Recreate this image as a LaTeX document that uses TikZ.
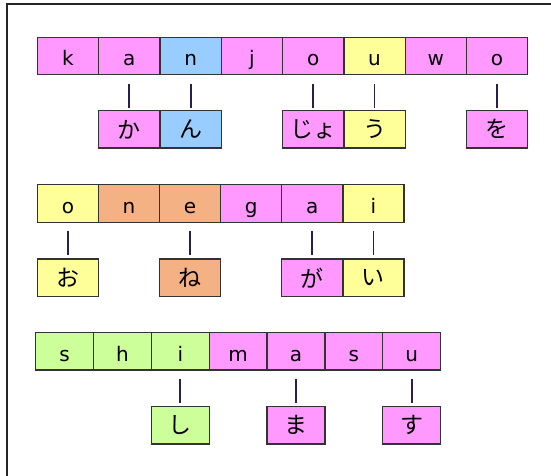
\documentclass[tikz,border=0pt]{standalone}
\usepackage{fontspec}
\setmainfont{DejaVu Sans}
\newfontfamily\jpfont{Noto Sans CJK JP}
\definecolor{cpink}{HTML}{FF99FF}
\definecolor{cblue}{HTML}{99CCFF}
\definecolor{cyellow}{HTML}{FFFF99}
\definecolor{corange}{HTML}{F4B183}
\definecolor{cgreen}{HTML}{CCFF99}
\definecolor{cline}{HTML}{333333}
\definecolor{clink}{HTML}{2A1F4A}
\begin{document}
\begin{tikzpicture}[x=1pt,y=-1pt,
  cell/.style={draw=cline, line width=1.3pt, inner sep=0pt, anchor=north west,
    font=\fontsize{20}{20}\selectfont, text height=20pt, text depth=0pt},
  kcell/.style={draw=cline, line width=1.3pt, inner sep=0pt, anchor=north west,
    font=\jpfont\fontsize{23}{23}\selectfont},
  wa/.style={minimum width=61.3pt, minimum height=37.3pt},
  wb/.style={minimum width=61.1pt, minimum height=37.7pt},
  wc/.style={minimum width=57.86pt, minimum height=37.3pt},
  link/.style={draw=clink, line width=1.8pt}]
\useasboundingbox (0,0) rectangle (551,476);
\draw[line width=2pt, black!85] (6.5,476) -- (6.5,4.5) -- (551,4.5);
% row 1
\foreach \t/\c [count=\i] in {k/cpink,a/cpink,n/cblue,j/cpink,o/cpink,u/cyellow,w/cpink,o/cpink}
  \node[cell, wa, fill=\c] (a\i) at ({36.7+(\i-1)*61.3},36.7) {\t};
\node[kcell, wa, fill=cpink] (ka2) at ({36.7+1*61.3},110) {か};
\node[kcell, wa, fill=cblue] (ka3) at ({36.7+2*61.3},110) {ん};
\node[kcell, wa, fill=cpink] (ka5) at ({36.7+4*61.3},110) {じょ};
\node[kcell, wa, fill=cyellow] (ka6) at ({36.7+5*61.3},110) {う};
\node[kcell, wa, fill=cpink] (ka8) at ({36.7+7*61.3},110) {を};
\foreach \i in {2,3,5,6,8}
  \draw[link, shorten <=8.7pt, shorten >=1.7pt] (a\i) -- (ka\i);
% row 2
\foreach \t/\c [count=\i] in {o/cyellow,n/corange,e/corange,g/cpink,a/cpink,i/cyellow}
  \node[cell, wb, fill=\c] (b\i) at ({36.7+(\i-1)*61.1},184) {\t};
\node[kcell, wb, fill=cyellow] (kb1) at ({36.7+0*61.1},258.3) {お};
\node[kcell, wb, fill=corange] (kb3) at ({36.7+2*61.1},258.3) {ね};
\node[kcell, wb, fill=cpink] (kb5) at ({36.7+4*61.1},258.3) {が};
\node[kcell, wb, fill=cyellow] (kb6) at ({36.7+5*61.1},258.3) {い};
\foreach \i in {1,3,5,6}
  \draw[link, shorten <=7.6pt, shorten >=3.3pt] (b\i) -- (kb\i);
% row 3
\foreach \t/\c [count=\i] in {s/cgreen,h/cgreen,i/cgreen,m/cpink,a/cpink,s/cpink,u/cpink}
  \node[cell, wc, fill=\c] (c\i) at ({35+(\i-1)*57.86},332) {\t};
\node[kcell, wc, fill=cgreen] (kc3) at ({35+2*57.86},406) {し};
\node[kcell, wc, fill=cpink] (kc5) at ({35+4*57.86},406) {ま};
\node[kcell, wc, fill=cpink] (kc7) at ({35+6*57.86},406) {す};
\foreach \i in {3,5,7}
  \draw[link, shorten <=8.4pt, shorten >=2.7pt] (c\i) -- (kc\i);
\end{tikzpicture}
\end{document}
